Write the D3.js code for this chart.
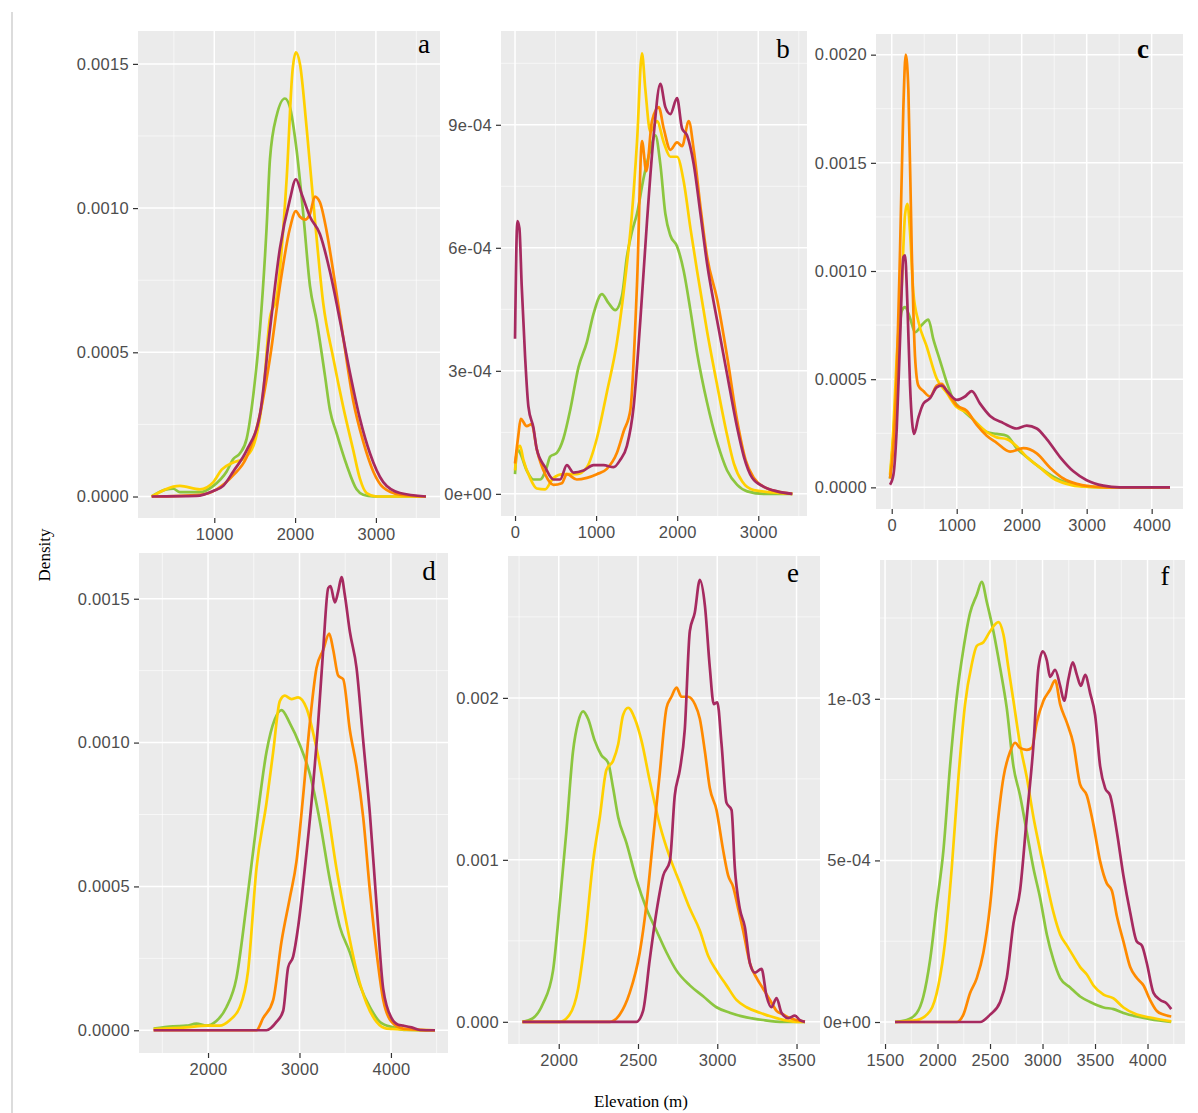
<!DOCTYPE html>
<html><head><meta charset="utf-8">
<script src="https://cdn.jsdelivr.net/npm/d3@7"></script>
<style>body{margin:0;background:#fff}svg{display:block}</style>
</head><body>
<svg id="chart" width="1198" height="1113"></svg>
<script>
// ---------- DATA (elevation m, density) ----------
const seriesNames = ["green", "yellow", "orange", "magenta"];
const seriesColors = ["#8CC63F", "#FFD000", "#FF8A00", "#A62A60"];

// Panel a
const aGreen = [[225,0],[410,2.5e-5],[492,2.7e-5],[575,1.5e-5],[823,1.5e-5],[988,3.7e-5],[1153,8.7e-5],[1235,1.3e-4],[1318,1.5e-4],[1400,2.0e-4],[1482,3.5e-4],[1565,5.8e-4],[1647,9.3e-4],[1689,1.17e-3],[1771,1.32e-3],[1874,1.38e-3],[1936,1.35e-3],[2019,1.2e-3],[2101,9.8e-4],[2184,7.3e-4],[2266,6.1e-4],[2369,4.2e-4],[2431,3.0e-4],[2513,2.2e-4],[2637,1.1e-4],[2761,2.5e-5],[2843,6e-6],[2967,0],[3619,0]];
const aYellow = [[225,0],[575,3.7e-5],[823,2.5e-5],[988,5e-5],[1091,9.3e-5],[1235,1.18e-4],[1359,1.3e-4],[1482,1.74e-4],[1606,3.6e-4],[1689,6.2e-4],[1771,6.9e-4],[1895,1.1e-3],[1969,1.48e-3],[2010,1.54e-3],[2060,1.5e-3],[2142,1.28e-3],[2245,9.6e-4],[2348,6.7e-4],[2472,4.8e-4],[2596,3.1e-4],[2720,1.6e-4],[2802,6.2e-5],[2885,1.2e-5],[3008,0],[3619,0]];
const aOrange = [[225,0],[823,6e-6],[1029,2.5e-5],[1235,7.4e-5],[1400,1.36e-4],[1565,2.85e-4],[1689,4.8e-4],[1812,7.3e-4],[1936,9.3e-4],[2010,9.9e-4],[2060,9.7e-4],[2122,9.6e-4],[2184,9.8e-4],[2245,1.04e-3],[2307,1.02e-3],[2390,9.2e-4],[2472,7.8e-4],[2596,5.5e-4],[2720,3.3e-4],[2843,1.9e-4],[2967,8.7e-5],[3091,3.1e-5],[3297,6e-6],[3619,0]];
const aMagenta = [[225,0],[781,2e-6],[988,1.9e-5],[1111,3.7e-5],[1235,8.7e-5],[1400,1.6e-4],[1565,2.85e-4],[1689,5.8e-4],[1812,8.6e-4],[1936,1.03e-3],[2010,1.1e-3],[2080,1.05e-3],[2184,9.7e-4],[2307,9.1e-4],[2431,7.8e-4],[2555,6.1e-4],[2678,4.3e-4],[2802,2.7e-4],[2926,1.5e-4],[3091,5e-5],[3297,1.2e-5],[3619,0]];

// Panel b
const bGreen = [[0,4.8e-5],[29,1.09e-4],[62,1.0e-4],[144,5.7e-5],[227,3.5e-5],[309,3.5e-5],[391,6.5e-5],[433,9.1e-5],[515,1.0e-4],[597,1.35e-4],[680,2.04e-4],[783,3.09e-4],[886,3.7e-4],[968,4.39e-4],[1071,4.87e-4],[1154,4.65e-4],[1236,4.48e-4],[1319,4.83e-4],[1380,5.78e-4],[1442,6.39e-4],[1504,6.83e-4],[1586,7.7e-4],[1669,8.39e-4],[1731,8.74e-4],[1792,8.04e-4],[1854,6.83e-4],[1916,6.3e-4],[1998,6.04e-4],[2081,5.43e-4],[2163,4.48e-4],[2246,3.43e-4],[2369,2.22e-4],[2493,1.26e-4],[2616,5.7e-5],[2740,2.2e-5],[2864,6e-6],[3070,0],[3420,0]];
const bYellow = [[0,5.7e-5],[29,1.09e-4],[62,1.17e-4],[103,8.3e-5],[185,3.9e-5],[268,1.3e-5],[371,1.1e-5],[474,3.9e-5],[597,4.8e-5],[762,4.8e-5],[886,6.5e-5],[1009,1.35e-4],[1133,2.48e-4],[1257,3.7e-4],[1360,5.26e-4],[1442,6.83e-4],[1504,8.57e-4],[1566,1.074e-3],[1607,9.87e-4],[1669,8.83e-4],[1751,9.09e-4],[1834,8.57e-4],[1916,8.22e-4],[1998,8.22e-4],[2081,7.61e-4],[2163,6.48e-4],[2246,5.43e-4],[2369,3.96e-4],[2493,2.65e-4],[2616,1.43e-4],[2699,7.4e-5],[2802,3.0e-5],[2946,9e-6],[3420,0]];
const bOrange = [[0,7.4e-5],[41,1.43e-4],[70,1.83e-4],[144,1.65e-4],[206,1.7e-4],[268,1.09e-4],[371,4.8e-5],[474,2.2e-5],[577,2.6e-5],[639,4.8e-5],[762,3.5e-5],[886,3.9e-5],[1009,4.8e-5],[1133,6.1e-5],[1257,1.0e-4],[1339,1.52e-4],[1422,2.04e-4],[1504,5.09e-4],[1566,8.6e-4],[1619,7.87e-4],[1689,9.09e-4],[1772,9.43e-4],[1834,8.91e-4],[1916,8.39e-4],[1998,8.57e-4],[2060,8.48e-4],[2143,9.09e-4],[2204,8.39e-4],[2287,7.0e-4],[2369,5.78e-4],[2493,4.74e-4],[2616,3.35e-4],[2740,1.78e-4],[2843,8.3e-5],[2946,3.9e-5],[3111,1.3e-5],[3420,0]];
const bMagenta = [[0,3.78e-4],[29,6.65e-4],[54,6.48e-4],[82,5.09e-4],[124,3.35e-4],[165,2.13e-4],[227,1.61e-4],[268,1.09e-4],[371,6.5e-5],[474,3.5e-5],[556,3.5e-5],[639,7e-5],[721,5.2e-5],[845,5.7e-5],[968,7e-5],[1092,7e-5],[1215,6.5e-5],[1298,8.3e-5],[1380,1.17e-4],[1463,2.13e-4],[1545,4.22e-4],[1628,6.65e-4],[1710,8.74e-4],[1792,1.0e-3],[1854,9.43e-4],[1916,9.26e-4],[1998,9.65e-4],[2060,8.91e-4],[2122,8.74e-4],[2204,8.04e-4],[2287,6.83e-4],[2369,5.61e-4],[2493,4.22e-4],[2616,2.91e-4],[2740,1.61e-4],[2822,9.1e-5],[2925,3.9e-5],[3070,1.7e-5],[3234,6e-6],[3420,0]];

// Panel c
const cGreen = [[-26,4.1e-5],[26,2.39e-4],[77,5.03e-4],[154,8.16e-4],[205,8.33e-4],[282,7.83e-4],[359,7.17e-4],[462,7.5e-4],[564,7.75e-4],[641,6.84e-4],[744,5.85e-4],[846,4.86e-4],[949,4.04e-4],[1103,3.54e-4],[1256,3.13e-4],[1462,2.56e-4],[1615,2.47e-4],[1769,2.39e-4],[1923,1.81e-4],[2077,1.4e-4],[2282,9.1e-5],[2487,4.9e-5],[2692,2.1e-5],[2949,5e-6],[3300,0],[4282,0]];
const cYellow = [[-26,5.8e-5],[26,2.72e-4],[77,6.02e-4],[154,9.32e-4],[205,1.261e-3],[241,1.311e-3],[282,1.179e-3],[333,8.99e-4],[410,7.67e-4],[538,6.51e-4],[692,5.03e-4],[846,4.37e-4],[1000,3.71e-4],[1154,3.46e-4],[1308,2.97e-4],[1462,2.56e-4],[1615,2.31e-4],[1769,2.23e-4],[1923,1.9e-4],[2077,1.4e-4],[2282,9.1e-5],[2487,4.1e-5],[2692,1.6e-5],[2949,3e-6],[3300,0],[4282,0]];
const cOrange = [[-26,4.1e-5],[26,1.9e-4],[77,5.19e-4],[128,1.096e-3],[179,1.756e-3],[215,2.0e-3],[256,1.838e-3],[308,1.096e-3],[359,6.02e-4],[410,4.7e-4],[487,4.45e-4],[590,4.2e-4],[692,4.7e-4],[769,4.78e-4],[846,4.45e-4],[1000,3.79e-4],[1154,3.54e-4],[1308,2.89e-4],[1462,2.39e-4],[1615,2.06e-4],[1821,1.65e-4],[2026,1.81e-4],[2231,1.57e-4],[2436,9.1e-5],[2641,4.1e-5],[2846,1.6e-5],[3051,5e-6],[3308,0],[4282,0]];
const cMagenta = [[-26,1.2e-5],[26,5.8e-5],[77,2.72e-4],[128,6.84e-4],[179,1.064e-3],[205,1.072e-3],[241,8.49e-4],[282,4.7e-4],[344,2.47e-4],[410,3.22e-4],[487,3.87e-4],[590,4.12e-4],[692,4.62e-4],[769,4.7e-4],[872,4.37e-4],[1000,4.04e-4],[1128,4.2e-4],[1231,4.45e-4],[1359,3.87e-4],[1513,3.3e-4],[1718,2.97e-4],[1923,2.72e-4],[2077,2.85e-4],[2231,2.72e-4],[2385,2.23e-4],[2590,1.4e-4],[2795,7.4e-5],[3000,3.3e-5],[3256,8e-6],[3513,0],[4282,0]];

// Panel d
const dGreen = [[1405,6e-6],[1617,1.4e-5],[1763,1.6e-5],[1872,2.3e-5],[1982,1.6e-5],[2091,3.2e-5],[2201,8.0e-5],[2310,1.81e-4],[2420,4.35e-4],[2529,7.14e-4],[2639,9.67e-4],[2730,1.081e-3],[2803,1.113e-3],[2894,1.068e-3],[3004,9.92e-4],[3113,8.91e-4],[3223,7.26e-4],[3332,5.23e-4],[3442,3.59e-4],[3551,2.7e-4],[3661,1.56e-4],[3770,8.0e-5],[3880,2.9e-5],[4026,1.0e-5],[4172,1e-6],[4482,0]];
const dYellow = [[1405,4e-6],[1763,1e-5],[1982,1.6e-5],[2128,1.6e-5],[2237,3.5e-5],[2347,8e-5],[2438,2.07e-4],[2529,5.61e-4],[2639,7.9e-4],[2712,9.67e-4],[2785,1.144e-3],[2839,1.163e-3],[2912,1.151e-3],[2985,1.157e-3],[3077,1.119e-3],[3186,9.8e-4],[3296,7.9e-4],[3405,5.61e-4],[3515,3.71e-4],[3624,2.07e-4],[3734,9.3e-5],[3843,2.9e-5],[3953,6e-6],[4482,0]];
const dOrange = [[1405,0],[2529,0],[2602,4.2e-5],[2712,1.05e-4],[2803,3.08e-4],[2894,4.6e-4],[2967,5.87e-4],[3040,8.15e-4],[3113,1.068e-3],[3186,1.259e-3],[3259,1.322e-3],[3325,1.379e-3],[3369,1.322e-3],[3423,1.233e-3],[3478,1.22e-3],[3551,1.043e-3],[3624,9.16e-4],[3697,7.39e-4],[3770,4.85e-4],[3843,2.7e-4],[3916,1.05e-4],[4007,2.9e-5],[4135,6e-6],[4482,0]];
const dMagenta = [[1405,0],[2639,0],[2748,2.9e-5],[2821,6.7e-5],[2876,2.19e-4],[2931,2.57e-4],[2985,3.59e-4],[3058,5.61e-4],[3131,7.9e-4],[3204,1.068e-3],[3259,1.322e-3],[3314,1.537e-3],[3339,1.544e-3],[3387,1.487e-3],[3423,1.525e-3],[3460,1.575e-3],[3496,1.512e-3],[3551,1.385e-3],[3624,1.259e-3],[3697,1.005e-3],[3770,7.52e-4],[3843,4.35e-4],[3916,1.43e-4],[4007,4.2e-5],[4080,1.9e-5],[4135,1.6e-5],[4226,1e-5],[4318,1e-6],[4482,0]];

// Panel e
const eGreen = [[1771,0],[1838,2.3e-5],[1901,1.13e-4],[1964,3.16e-4],[2006,7.22e-4],[2048,1.173e-3],[2090,1.669e-3],[2122,1.849e-3],[2154,1.917e-3],[2185,1.871e-3],[2227,1.736e-3],[2269,1.646e-3],[2311,1.601e-3],[2343,1.443e-3],[2375,1.263e-3],[2427,1.105e-3],[2490,8.79e-4],[2553,6.99e-4],[2616,5.64e-4],[2680,4.28e-4],[2743,3.16e-4],[2827,2.25e-4],[2911,1.58e-4],[2995,9e-5],[3079,5.6e-5],[3185,2.7e-5],[3290,1.1e-5],[3416,0],[3553,0]];
const eYellow = [[1771,0],[2006,0],[2069,4.5e-5],[2122,2.03e-4],[2164,4.96e-4],[2217,9.92e-4],[2259,1.263e-3],[2301,1.556e-3],[2343,1.612e-3],[2375,1.714e-3],[2406,1.894e-3],[2438,1.939e-3],[2480,1.871e-3],[2522,1.736e-3],[2574,1.488e-3],[2637,1.218e-3],[2701,1.015e-3],[2764,8.57e-4],[2827,6.99e-4],[2890,5.64e-4],[2943,4.06e-4],[2995,3.16e-4],[3058,2.25e-4],[3121,1.35e-4],[3185,9e-5],[3269,5.6e-5],[3374,2.3e-5],[3500,0],[3553,0]];
const eOrange = [[1771,0],[2322,0],[2385,4.5e-5],[2448,1.8e-4],[2511,4.28e-4],[2553,7.22e-4],[2595,1.127e-3],[2637,1.533e-3],[2680,1.939e-3],[2711,2.007e-3],[2743,2.063e-3],[2774,2.007e-3],[2816,2.007e-3],[2858,1.962e-3],[2890,1.871e-3],[2922,1.669e-3],[2953,1.443e-3],[2995,1.308e-3],[3037,1.06e-3],[3069,9.02e-4],[3100,8.34e-4],[3132,6.99e-4],[3163,5.64e-4],[3206,3.61e-4],[3248,2.71e-4],[3290,2.03e-4],[3332,1.35e-4],[3374,6.8e-5],[3416,4.5e-5],[3458,2.3e-5],[3500,1.1e-5],[3553,0]];
const eMagenta = [[1771,0],[2490,0],[2532,6.8e-5],[2574,3.83e-4],[2616,6.76e-4],[2659,9.02e-4],[2701,9.92e-4],[2732,1.398e-3],[2764,1.556e-3],[2795,1.804e-3],[2827,2.413e-3],[2858,2.525e-3],[2890,2.728e-3],[2922,2.57e-3],[2953,2.187e-3],[2978,1.962e-3],[3000,1.973e-3],[3027,1.714e-3],[3058,1.353e-3],[3090,1.308e-3],[3111,9.47e-4],[3142,6.99e-4],[3174,5.86e-4],[3206,3.61e-4],[3237,3.04e-4],[3279,3.27e-4],[3311,1.58e-4],[3342,9e-5],[3374,1.47e-4],[3405,5.6e-5],[3448,2.3e-5],[3490,3.8e-5],[3521,1.1e-5],[3553,0]];

// Panel f
const fGreen = [[1595,0],[1706,6e-6],[1802,2.8e-5],[1865,7.9e-5],[1929,1.92e-4],[1992,3.62e-4],[2056,5.31e-4],[2119,7.91e-4],[2183,1.006e-3],[2246,1.153e-3],[2310,1.266e-3],[2374,1.322e-3],[2421,1.362e-3],[2469,1.3e-3],[2532,1.209e-3],[2596,1.096e-3],[2659,9.72e-4],[2723,7.91e-4],[2786,7.01e-4],[2850,5.88e-4],[2914,4.75e-4],[2977,3.84e-4],[3041,2.71e-4],[3104,1.92e-4],[3168,1.36e-4],[3263,1.07e-4],[3358,7.9e-5],[3454,6.2e-5],[3581,4.5e-5],[3676,4e-5],[3771,2.8e-5],[3898,1.7e-5],[4025,9e-6],[4226,0]];
const fYellow = [[1595,0],[1802,6e-6],[1929,3.4e-5],[2008,1.13e-4],[2072,2.49e-4],[2135,4.75e-4],[2199,7.57e-4],[2262,9.83e-4],[2326,1.107e-3],[2374,1.164e-3],[2437,1.175e-3],[2501,1.209e-3],[2580,1.237e-3],[2628,1.198e-3],[2675,1.096e-3],[2723,9.94e-4],[2786,8.59e-4],[2850,7.57e-4],[2914,6.33e-4],[2977,5.31e-4],[3041,4.29e-4],[3104,3.39e-4],[3168,2.71e-4],[3231,2.37e-4],[3295,2.03e-4],[3358,1.7e-4],[3422,1.47e-4],[3485,1.13e-4],[3581,8.5e-5],[3676,7.3e-5],[3771,4.5e-5],[3898,2.3e-5],[4025,1.4e-5],[4226,2e-6]];
const fOrange = [[1595,0],[2183,0],[2246,2.3e-5],[2310,9e-5],[2374,1.36e-4],[2437,2.15e-4],[2501,3.62e-4],[2564,5.88e-4],[2628,7.57e-4],[2691,8.36e-4],[2739,8.64e-4],[2786,8.48e-4],[2850,8.42e-4],[2898,8.48e-4],[2945,9.27e-4],[3009,9.94e-4],[3072,1.028e-3],[3120,1.057e-3],[3168,9.83e-4],[3231,9.27e-4],[3295,8.59e-4],[3358,7.35e-4],[3422,7.01e-4],[3485,6.1e-4],[3549,4.97e-4],[3612,4.29e-4],[3660,4.07e-4],[3708,3.28e-4],[3771,2.49e-4],[3835,1.7e-4],[3898,1.36e-4],[3962,1.13e-4],[4025,6.8e-5],[4089,3.4e-5],[4152,2.3e-5],[4226,1.7e-5]];
const fMagenta = [[1595,0],[2405,0],[2501,2.3e-5],[2596,6.2e-5],[2659,1.36e-4],[2723,3.05e-4],[2786,4.07e-4],[2850,6.33e-4],[2914,8.59e-4],[2961,1.096e-3],[3003,1.147e-3],[3041,1.119e-3],[3072,1.068e-3],[3120,1.09e-3],[3168,1.04e-3],[3206,9.94e-4],[3247,1.062e-3],[3288,1.113e-3],[3327,1.074e-3],[3365,1.04e-3],[3406,1.074e-3],[3454,1.017e-3],[3501,9.49e-4],[3549,7.91e-4],[3597,7.23e-4],[3644,7.01e-4],[3708,5.88e-4],[3771,4.52e-4],[3835,3.39e-4],[3898,2.49e-4],[3946,2.37e-4],[3994,1.81e-4],[4057,9e-5],[4121,6.8e-5],[4184,5.7e-5],[4226,4e-5]];

// Tick values and labels
const aXTicks = [1000, 2000, 3000];
const aYTicks = [0, 0.0005, 0.0010, 0.0015];
const aYLabels = ["0.0000", "0.0005", "0.0010", "0.0015"];
const bXTicks = [0, 1000, 2000, 3000];
const bYTicks = [0, 3e-4, 6e-4, 9e-4];
const bYLabels = ["0e+00", "3e-04", "6e-04", "9e-04"];
const cXTicks = [0, 1000, 2000, 3000, 4000];
const cYTicks = [0, 0.0005, 0.0010, 0.0015, 0.0020];
const cYLabels = ["0.0000", "0.0005", "0.0010", "0.0015", "0.0020"];
const dXTicks = [2000, 3000, 4000];
const dYTicks = [0, 0.0005, 0.0010, 0.0015];
const dYLabels = ["0.0000", "0.0005", "0.0010", "0.0015"];
const eXTicks = [2000, 2500, 3000, 3500];
const eYTicks = [0, 0.001, 0.002];
const eYLabels = ["0.000", "0.001", "0.002"];
const fXTicks = [1500, 2000, 2500, 3000, 3500, 4000];
const fYTicks = [0, 5e-4, 1e-3];
const fYLabels = ["0e+00", "5e-04", "1e-03"];

const panelLetters = ["a", "b", "c", "d", "e", "f"];
const xTitle = "Elevation (m)";
const yTitle = "Density";

// ---------- LAYOUT ----------
const panels = [
  {letter: "a", series: [aGreen, aYellow, aOrange, aMagenta], xTicks: aXTicks, yTicks: aYTicks, yLabels: aYLabels,
   xDomain: [56, 3793], yDomain: [-7.45e-5, 1.614e-3], box: [138, 31, 440, 518], letterPos: [424, 53], bold: false},
  {letter: "b", series: [bGreen, bYellow, bOrange, bMagenta], xTicks: bXTicks, yTicks: bYTicks, yLabels: bYLabels,
   xDomain: [-173, 3601], yDomain: [-5.4e-5, 1.1287e-3], box: [501, 31, 807, 516], letterPos: [783, 58], bold: false},
  {letter: "c", series: [cGreen, cYellow, cOrange, cMagenta], xTicks: cXTicks, yTicks: cYTicks, yLabels: cYLabels,
   xDomain: [-242, 4482], yDomain: [-1.0e-4, 2.0955e-3], box: [876, 34, 1183, 509], letterPos: [1143, 58], bold: true},
  {letter: "d", series: [dGreen, dYellow, dOrange, dMagenta], xTicks: dXTicks, yTicks: dYTicks, yLabels: dYLabels,
   xDomain: [1245, 4624], yDomain: [-7.9e-5, 1.659e-3], box: [139, 553, 448, 1053], letterPos: [429, 580], bold: false},
  {letter: "e", series: [eGreen, eYellow, eOrange, eMagenta], xTicks: eXTicks, yTicks: eYTicks, yLabels: eYLabels,
   xDomain: [1680, 3648], yDomain: [-1.37e-4, 2.876e-3], box: [508, 556, 820, 1044], letterPos: [793, 582], bold: false},
  {letter: "f", series: [fGreen, fYellow, fOrange, fMagenta], xTicks: fXTicks, yTicks: fYTicks, yLabels: fYLabels,
   xDomain: [1452, 4357], yDomain: [-6.8e-5, 1.4295e-3], box: [880, 560, 1185, 1044], letterPos: [1165, 585], bold: false}
];

const svg = d3.select("#chart");
svg.append("rect").attr("width", 1198).attr("height", 1113).attr("fill", "#fff");
svg.append("line").attr("x1", 12).attr("x2", 12).attr("y1", 12).attr("y2", 1113)
  .attr("stroke", "#dcdcdc").attr("stroke-width", 2);

function minorBreaks(ticks, domain) {
  const step = ticks[1] - ticks[0];
  const out = [];
  for (let v = ticks[0] - step / 2; v <= domain[1]; v += step) {
    if (v >= domain[0] && v <= domain[1]) out.push(v);
  }
  return out;
}

panels.forEach(p => {
  const [L, T, R, B] = p.box;
  const x = d3.scaleLinear().domain(p.xDomain).range([L, R]);
  const y = d3.scaleLinear().domain(p.yDomain).range([B, T]);
  const g = svg.append("g");

  g.append("rect").attr("x", L).attr("y", T).attr("width", R - L).attr("height", B - T).attr("fill", "#EBEBEB");

  // minor grid
  g.selectAll(".mx").data(minorBreaks(p.xTicks, p.xDomain)).join("line")
    .attr("x1", d => x(d)).attr("x2", d => x(d)).attr("y1", T).attr("y2", B)
    .attr("stroke", "#fff").attr("stroke-width", 0.7).attr("stroke-opacity", 0.85);
  g.selectAll(".my").data(minorBreaks(p.yTicks, p.yDomain)).join("line")
    .attr("y1", d => y(d)).attr("y2", d => y(d)).attr("x1", L).attr("x2", R)
    .attr("stroke", "#fff").attr("stroke-width", 0.7).attr("stroke-opacity", 0.85);
  // major grid
  g.selectAll(".Mx").data(p.xTicks).join("line")
    .attr("x1", d => x(d)).attr("x2", d => x(d)).attr("y1", T).attr("y2", B)
    .attr("stroke", "#fff").attr("stroke-width", 1.5);
  g.selectAll(".My").data(p.yTicks).join("line")
    .attr("y1", d => y(d)).attr("y2", d => y(d)).attr("x1", L).attr("x2", R)
    .attr("stroke", "#fff").attr("stroke-width", 1.5);

  // lines
  const line = d3.line().x(d => x(d[0])).y(d => y(d[1])).curve(d3.curveMonotoneX);
  p.series.forEach((s, i) => {
    g.append("path").datum(s).attr("d", line).attr("fill", "none")
      .attr("stroke", seriesColors[i]).attr("stroke-width", 2.7)
      .attr("stroke-linejoin", "round").attr("stroke-linecap", "butt");
  });

  // axes
  const xa = g.append("g").attr("transform", `translate(0,${B})`)
    .call(d3.axisBottom(x).tickValues(p.xTicks).tickFormat(d3.format("d")).tickSize(5).tickPadding(5));
  const ya = g.append("g").attr("transform", `translate(${L},0)`)
    .call(d3.axisLeft(y).tickValues(p.yTicks).tickFormat((d, i) => p.yLabels[i]).tickSize(5).tickPadding(4));
  [xa, ya].forEach(a => {
    a.select(".domain").remove();
    a.selectAll(".tick line").attr("stroke", "#333").attr("stroke-width", 1.2);
    a.selectAll(".tick text").attr("fill", "#4D4D4D")
      .style("font-family", "'Liberation Sans', Arial, sans-serif").style("font-size", "16.5px")
      .style("letter-spacing", "0.3px");
  });

  // panel letter
  g.append("text").attr("x", p.letterPos[0]).attr("y", p.letterPos[1]).attr("text-anchor", "middle")
    .style("font-family", "'Liberation Serif', 'Times New Roman', serif").style("font-size", "27px")
    .style("font-weight", p.bold ? "bold" : "normal").attr("fill", "#000").text(p.letter);
});

svg.append("text").attr("transform", "translate(50,555) rotate(-90)").attr("text-anchor", "middle")
  .style("font-family", "'Liberation Serif', 'Times New Roman', serif").style("font-size", "17px").text(yTitle);
svg.append("text").attr("x", 641).attr("y", 1107).attr("text-anchor", "middle")
  .style("font-family", "'Liberation Serif', 'Times New Roman', serif").style("font-size", "17px").text(xTitle);
</script>
</body></html>
